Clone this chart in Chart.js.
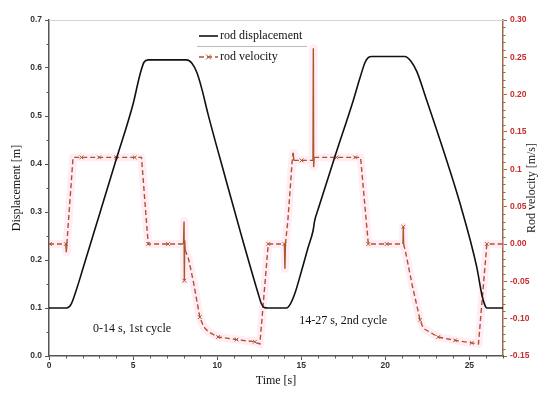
<!DOCTYPE html>
<html>
<head>
<meta charset="utf-8">
<script src="https://cdn.jsdelivr.net/npm/chart.js@4.4.0/dist/chart.umd.min.js"></script>
<style>
  html, body { margin: 0; padding: 0; background: #fff; }
  #wrap { width: 550px; height: 398px; }
</style>
</head>
<body>
<div id="wrap"><canvas id="rod-chart" width="550" height="398"></canvas></div>
<script>
// rod displacement [m] over time [s]
var dispTime = [0, 1.05, 1.3, 1.6, 2.0, 3.0, 4.0, 5.0, 5.4, 5.65, 5.9, 8.18, 8.5, 8.8, 9.1, 9.45,
  10.46, 11.45, 12.44, 12.62, 12.8, 13.0, 14.13, 14.35, 14.62, 15.0, 15.4, 15.71, 15.8, 16.0,
  17.0, 18.1, 18.5, 18.8, 19.0, 19.2, 21.17, 21.5, 21.87, 22.46, 23.45, 24.45, 25.44, 25.74,
  25.9, 26.04, 27];
var dispValue = [0.1, 0.1, 0.107, 0.135, 0.18, 0.295, 0.41, 0.525, 0.585, 0.612, 0.617, 0.617, 0.61, 0.59, 0.555, 0.505,
  0.375, 0.25, 0.13, 0.11, 0.101, 0.1, 0.1, 0.108, 0.13, 0.175, 0.225, 0.262, 0.282, 0.305,
  0.415, 0.533, 0.58, 0.612, 0.622, 0.624, 0.624, 0.615, 0.593, 0.533, 0.429, 0.317, 0.185, 0.128,
  0.108, 0.1, 0.1];

// rod velocity [m/s]
var velTime = [0, 0.05, 1.0, 1.03, 1.06, 1.43, 1.93, 2.98, 4.0, 5.1, 5.5, 5.9, 7.08, 8.0, 8.03, 8.05,
  8.07, 8.1, 8.3, 8.6, 8.97, 9.2, 9.5, 10.06, 11.15, 12.24, 12.54, 13.04, 14.0, 14.03, 14.06,
  14.2, 14.3, 14.45, 14.52, 14.56, 15.02, 15.7, 15.72, 15.74, 15.77, 17.1, 18.2, 18.53, 18.99,
  20.08, 21.05, 21.07, 21.09, 21.2, 21.6, 22.07, 22.26, 23.15, 24.15, 25.14, 25.54, 26.04, 27];
var velValue = [0, 0, 0, -0.011, 0, 0.116, 0.116, 0.116, 0.116, 0.116, 0.116, 0, 0, 0, 0.03, -0.049,
  0.005, -0.008, -0.02, -0.052, -0.098, -0.111, -0.118, -0.1245, -0.128, -0.131, -0.134, 0, 0, -0.033, 0,
  0.03, 0.06, 0.108, 0.122, 0.112, 0.112, 0.112, 0.262, 0.103, 0.116, 0.116, 0.116, 0.116, 0,
  0, 0, 0.023, 0, -0.01, -0.055, -0.102, -0.113, -0.1246, -0.129, -0.1325, -0.134, 0, 0];
// samples that carry an "x" marker
var velMarks = [0.05, 1.0, 1.93, 2.98, 4.0, 5.1, 5.9, 7.08, 8.05, 8.97, 10.06, 11.15, 12.24, 13.04,
  14.0, 15.02, 17.1, 18.2, 18.99, 20.08, 21.07, 22.07, 23.15, 24.15, 25.14, 26.04];

var velTickLabels = ['-0.15', '-0.10', '-0.05', '0.00', '0.05', '0.1', '0.15', '0.20', '0.25', '0.30'];
var seriesNames = ['rod displacement', 'rod velocity'];
var cycleNotes = ['0-14 s, 1st cycle', '14-27 s, 2nd cycle'];

var velColor = '#a8572b';
var serif = '"Liberation Serif", "Times New Roman", serif';
var tickFont = { family: '"Liberation Sans", Arial, sans-serif', size: 8.5, weight: 'bold' };

function pairs(xs, ys) {
  return xs.map(function(x, i) { return { x: x, y: ys[i] }; });
}

// minor ticks, top frame, legend, notes and the right-hand title
var decor = {
  id: 'decor',
  afterDraw: function(chart) {
    var ctx = chart.ctx, a = chart.chartArea;
    var sx = chart.scales.x, sd = chart.scales.yd, sv = chart.scales.yv;
    var i, p;
    ctx.save();

    ctx.strokeStyle = '#d4d4d4';
    ctx.lineWidth = 1;
    ctx.beginPath();
    ctx.moveTo(a.left, a.top + 0.5);
    ctx.lineTo(a.right, a.top + 0.5);
    ctx.stroke();

    ctx.strokeStyle = '#555';
    ctx.beginPath();
    for (i = 1; i <= 27; i++) {
      if (i % 5 === 0) continue;
      p = Math.round(sx.getPixelForValue(i)) + 0.5;
      ctx.moveTo(p, a.bottom); ctx.lineTo(p, a.bottom + 2.5);
    }
    for (i = 0; i < 7; i++) {
      p = Math.round(sd.getPixelForValue(i / 10 + 0.05)) + 0.5;
      ctx.moveTo(a.left - 2.5, p); ctx.lineTo(a.left, p);
    }
    ctx.stroke();

    ctx.strokeStyle = '#9c6a4c';
    ctx.beginPath();
    for (i = -15; i <= 30; i++) {
      if (i % 5 === 0) continue;
      p = Math.round(sv.getPixelForValue(i / 100)) + 0.5;
      ctx.moveTo(a.right, p); ctx.lineTo(a.right + 2.5, p);
    }
    ctx.stroke();

    // legend
    var lx = a.left + 150, ly = a.top + 16;
    ctx.lineWidth = 1.6;
    ctx.strokeStyle = '#111';
    ctx.beginPath(); ctx.moveTo(lx, ly); ctx.lineTo(lx + 19, ly); ctx.stroke();
    ctx.strokeStyle = velColor;
    ctx.lineWidth = 1.4;
    ctx.setLineDash([5, 3]);
    ctx.beginPath(); ctx.moveTo(lx, ly + 21); ctx.lineTo(lx + 19, ly + 21); ctx.stroke();
    ctx.setLineDash([]);
    ctx.lineWidth = 1;
    ctx.beginPath();
    ctx.moveTo(lx + 7, ly + 18.5); ctx.lineTo(lx + 12, ly + 23.5);
    ctx.moveTo(lx + 12, ly + 18.5); ctx.lineTo(lx + 7, ly + 23.5);
    ctx.stroke();
    ctx.strokeStyle = '#bbb';
    ctx.beginPath(); ctx.moveTo(lx - 2, ly + 10.5); ctx.lineTo(lx + 108, ly + 10.5); ctx.stroke();
    ctx.fillStyle = '#111';
    ctx.font = '12px ' + serif;
    ctx.textBaseline = 'middle';
    ctx.textAlign = 'left';
    ctx.fillText(seriesNames[0], lx + 21, ly);
    ctx.fillText(seriesNames[1], lx + 21, ly + 21);

    // cycle notes
    ctx.fillText(cycleNotes[0], sx.getPixelForValue(2.62), sd.getPixelForValue(0.057));
    ctx.fillText(cycleNotes[1], sx.getPixelForValue(14.88), sd.getPixelForValue(0.074));

    // right axis title, reading upwards
    ctx.translate(532, (a.top + a.bottom) / 2);
    ctx.rotate(-Math.PI / 2);
    ctx.textAlign = 'center';
    ctx.fillStyle = '#222';
    ctx.fillText('Rod velocity [m/s]', 0, 0);
    ctx.restore();
  }
};

var config = {
  type: 'line',
  data: {
    datasets: [{
      label: seriesNames[0],
      data: pairs(dispTime, dispValue),
      yAxisID: 'yd',
      borderColor: '#111',
      borderWidth: 1.6,
      pointRadius: 0,
      cubicInterpolationMode: 'monotone',
      order: 0
    }, {
      label: seriesNames[1],
      data: pairs(velTime, velValue),
      yAxisID: 'yv',
      borderColor: velColor,
      borderWidth: 1.4,
      borderDash: [5, 3],
      segment: {
        borderDash: function(c) { return (c.p1.parsed.x - c.p0.parsed.x) < 0.05 ? [] : [5, 3]; }
      },
      pointStyle: 'crossRot',
      pointRadius: function(c) { return velMarks.indexOf(velTime[c.dataIndex]) >= 0 ? 2.6 : 0; },
      pointBorderColor: velColor,
      pointBorderWidth: 1,
      order: 1
    }, {
      label: 'halo',
      data: pairs(velTime, velValue),
      yAxisID: 'yv',
      borderColor: 'rgba(255, 185, 220, 0.28)',
      borderWidth: 8,
      borderJoinStyle: 'round',
      pointRadius: 0,
      order: 2
    }]
  },
  options: {
    responsive: false,
    animation: false,
    layout: { padding: { top: 20, left: 0, right: 0, bottom: 0 } },
    plugins: { legend: { display: false }, tooltip: { enabled: false } },
    scales: {
      x: {
        type: 'linear',
        position: 'bottom',
        min: 0,
        max: 27,
        afterFit: function(s) { s.height = 42; },
        border: { color: '#555', width: 1.5 },
        grid: { drawOnChartArea: false, tickLength: 4, color: '#555' },
        ticks: { stepSize: 5, includeBounds: false, padding: 1, color: '#333', font: tickFont },
        title: { display: true, text: 'Time [s]', color: '#111', font: { family: serif, size: 12 }, padding: { top: 0, bottom: 10 } }
      },
      yd: {
        type: 'linear',
        position: 'left',
        min: 0,
        max: 0.7,
        afterFit: function(s) { s.width = 49; },
        border: { color: '#555', width: 1.5 },
        grid: { drawOnChartArea: false, tickLength: 4, color: '#555' },
        ticks: { stepSize: 0.1, padding: 3, color: '#333', font: tickFont,
          callback: function(v) { return v.toFixed(1); } },
        title: { display: true, text: 'Displacement [m]', color: '#111', font: { family: serif, size: 12 }, padding: { top: 10, bottom: 0 } }
      },
      yv: {
        type: 'linear',
        position: 'right',
        min: -0.15,
        max: 0.30,
        afterFit: function(s) { s.width = 47; },
        border: { color: '#9c6a4c', width: 1.5 },
        grid: { drawOnChartArea: false, tickLength: 4, color: '#9c6a4c' },
        ticks: { stepSize: 0.05, padding: 3, color: '#c62d2d', font: tickFont,
          callback: function(v) {
            for (var i = 0; i < velTickLabels.length; i++) {
              if (Math.abs(parseFloat(velTickLabels[i]) - v) < 1e-6) return velTickLabels[i];
            }
            return '';
          } }
      }
    }
  },
  plugins: [decor]
};

var ctx = document.getElementById('rod-chart').getContext('2d');
var rodChart = new Chart(ctx, config);
</script>
</body>
</html>
